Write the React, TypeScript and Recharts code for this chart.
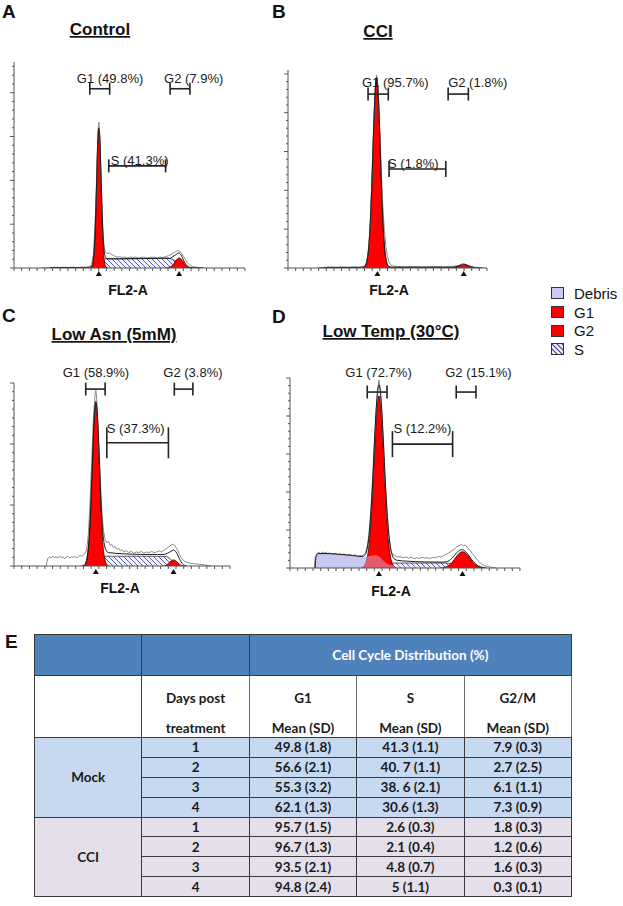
import React from "react";
import {
  Area,
  ComposedChart,
  Line,
  ReferenceDot,
  ReferenceLine,
  XAxis,
  YAxis,
} from "recharts";

type Pt = [number, number];

// ---------- A: Control ----------
const controlG1: Pt[] = [[84,0],[86,2],[88,18],[89,43],[90,88],[91,153],[92,229],[93,291],[94,315],[95,291],[96,229],[97,153],[98,88],[99,43],[100,18],[102,2],[104,0]];
const controlG2: Pt[] = [[168,0],[170,0.5],[173,2],[175,4.7],[177,9.5],[179,15.5],[181,20.8],[183,23],[185,20.8],[187,15.5],[189,9.5],[191,4.7],[193,2],[196,0.5],[198,0]];
const controlS: Pt[] = [[92,0],[94,4],[96,11],[98,17],[100,20],[102,21],[120,21],[140,21.5],[160,22],[170,22],[175,20],[180,15],[183,11],[186,5],[189,1],[192,0]];
const controlFit: Pt[] = [[40,1],[60,1],[80,1],[84,2],[86,4],[88,20],[89,45],[90,90],[91,155],[92,229],[93,295],[94,319],[95,302],[96,240],[97,170],[98,105],[99,62],[100,38],[102,23],[104,21],[120,21],[140,21.5],[160,22],[170,22.5],[173,22],[175,24.5],[177,27],[179,30],[181,33],[183,34],[185,30],[187,22],[189,13],[191,7],[193,3],[196,1],[200,0.5],[210,0]];
const controlRaw: Pt[] = [[30,0],[42,1],[46,2],[50,1],[55,2],[60,1],[65,2],[70,1],[75,2],[80,2],[84,3],[86,8],[88,30],[90,110],[91,170],[92,245],[93,310],[94,333],[95,305],[96,245],[97,175],[98,110],[99,70],[100,48],[101,38],[102,35],[104,33],[106,34],[108,31],[110,29],[112,27],[114,25],[117,26],[120,24],[123,25],[126,23],[129,25],[132,24],[135,25],[138,23],[141,24],[144,25],[147,23],[150,24],[153,25],[156,24],[159,23],[162,25],[165,24],[168,26],[171,28],[174,31],[177,35],[180,38],[182,40],[184,38],[186,33],[188,26],[190,19],[192,12],[194,8],[196,5],[198,3],[202,2],[206,1],[210,0]];

// ---------- B: CCI ----------
const cciG1: Pt[] = [[96,0],[98,2],[100,7],[102,22],[104,56],[106,122],[108,224],[110,346],[112,449],[114,490],[116,449],[118,346],[120,224],[122,122],[124,56],[126,22],[128,7],[130,2],[132,0]];
const cciG2: Pt[] = [[212,0],[216,1.5],[220,4],[223,6.5],[226,8],[229,6.5],[232,4],[236,1.5],[240,0]];
const cciS: Pt[] = [[114,0],[118,1],[124,1.5],[200,1.5],[222,1],[228,0]];
const cciFit: Pt[] = [[40,0],[50,1],[90,1.5],[98,3],[100,8],[102,23],[104,57],[106,123],[108,225],[110,347],[112,450],[114,491],[116,451],[118,348],[120,226],[122,124],[124,58],[126,24],[128,9],[130,4],[134,2],[160,2],[200,2],[212,2],[216,3.5],[220,5.5],[223,8],[226,9.5],[229,8],[232,5.5],[236,3],[240,1],[250,0]];
const cciRaw: Pt[] = [[40,0],[48,2],[55,3],[62,2],[70,3],[78,2],[85,3],[92,2],[98,4],[100,9],[102,25],[104,60],[106,125],[108,230],[110,355],[112,460],[114,497],[116,462],[118,360],[120,250],[122,160],[124,95],[126,55],[128,30],[130,15],[132,8],[135,5],[140,4],[150,3],[160,4],[170,3],[180,3],[190,4],[200,3],[210,4],[216,5],[220,7],[223,10],[226,11],[229,9],[232,7],[236,4],[240,2],[246,1],[252,0]];

// ---------- C: Low Asn ----------
const asnG1: Pt[] = [[81,0],[83,1],[85,4.5],[87,16],[89,43],[91,96],[93,170],[95,238],[97,267],[99,238],[101,170],[103,96],[105,43],[107,16],[109,4.5],[111,1],[113,0]];
const asnG2: Pt[] = [[177,0],[180,1],[182,3],[184,5.5],[186,8],[189,10],[192,8],[194,5.5],[196,3],[198,1],[201,0]];
const asnS: Pt[] = [[95,0],[97,3],[100,8],[103,12.5],[106,15],[109,16],[130,16],[150,16],[170,16],[180,15.5],[184,13],[187,9],[190,5.5],[193,2.5],[197,0.5],[200,0]];
const asnFit: Pt[] = [[80,0],[83,1],[85,5],[87,17],[89,45],[91,99],[93,175],[95,244],[97,270],[99,245],[101,180],[103,108],[105,60],[107,36],[109,26],[112,22],[130,20],[150,19],[170,19],[178,19],[182,21],[184,22.5],[186,24],[189,26],[192,23],[194,18],[196,12],[198,7],[201,2],[205,0]];
const asnRaw: Pt[] = [[38,0],[40,12],[42,15],[44,13],[46,16],[48,14],[50,15],[52,13],[54,16],[56,14],[58,15],[60,12],[62,15],[64,16],[66,13],[68,15],[70,14],[72,16],[74,13],[76,15],[78,17],[80,16],[82,18],[84,20],[86,26],[88,50],[90,100],[92,170],[94,240],[96,280],[97,288],[98,275],[100,215],[102,150],[104,92],[106,58],[108,44],[110,38],[112,40],[114,34],[116,35],[118,30],[120,32],[122,27],[124,29],[126,25],[128,27],[130,23],[133,25],[136,22],[139,24],[142,21],[145,23],[148,22],[151,24],[154,21],[157,23],[160,22],[163,24],[166,22],[169,23],[172,25],[175,23],[178,26],[181,29],[184,32],[187,35],[189,36],[191,33],[193,28],[195,23],[197,17],[199,12],[202,8],[205,6],[208,5],[212,4],[218,3],[224,2],[230,1],[234,0]];

// ---------- D: Low Temp ----------
const tempDebris: Pt[] = [[28,0],[29,30],[31,38],[33,40],[35,37],[37,41],[40,38],[43,40],[46,36],[49,39],[52,36],[55,37],[58,34],[61,36],[64,33],[67,35],[70,32],[73,33],[76,30],[79,31],[82,29],[86,30],[90,32],[94,34],[97,33],[100,29],[103,22],[106,15],[109,10],[112,8],[120,6],[130,5],[140,4],[150,3],[160,2],[170,1],[180,0]];
const tempG1: Pt[] = [[79,0],[81,2],[83,6.6],[85,18],[87,42],[89,87],[91,157],[93,250],[95,348],[97,424],[99,453],[101,424],[103,348],[105,250],[107,157],[109,87],[111,42],[113,18],[115,6.6],[117,2],[119,0]];
const tempG2: Pt[] = [[168,0],[170,1],[174,3.4],[177,7.4],[180,14],[183,23],[186,32.5],[189,40],[192,43],[195,40],[198,32.5],[201,23],[204,14],[207,7.4],[210,3.4],[214,1],[218,0]];
const tempS: Pt[] = [[97,0],[99,3],[102,7],[105,10],[108,12],[112,13],[130,13],[150,13],[170,13],[180,12],[185,10],[189,7],[192,5],[196,2.5],[200,1],[205,0]];
const tempFit: Pt[] = [[28,0],[29,30],[32,38],[40,38],[50,37],[60,35],[70,33],[80,30],[84,36],[86,52],[88,85],[90,145],[92,228],[94,330],[96,420],[98,474],[99,482],[100,476],[102,420],[104,330],[106,232],[108,150],[110,90],[112,52],[114,32],[116,24],[120,20],[130,18],[150,16],[170,15.5],[175,17],[180,25],[183,33],[186,41],[189,47],[192,48],[195,44],[198,36],[201,26],[204,17],[207,10],[210,5],[214,2],[218,0]];
const tempRaw: Pt[] = [[27,0],[28,28],[30,38],[32,41],[34,38],[36,42],[38,39],[40,41],[42,37],[44,40],[46,38],[48,36],[50,39],[52,37],[54,35],[56,38],[58,34],[60,37],[62,35],[64,33],[66,36],[68,34],[70,32],[72,35],[74,33],[76,31],[78,33],[80,32],[82,35],[84,40],[86,58],[88,93],[90,152],[92,236],[94,334],[96,423],[98,476],[99,495],[100,477],[102,420],[104,327],[106,227],[108,143],[110,83],[112,49],[114,36],[116,34],[118,31],[120,29],[123,30],[126,27],[129,29],[132,26],[135,28],[138,25],[141,27],[144,25],[147,28],[150,26],[153,27],[156,25],[159,28],[162,27],[165,30],[168,29],[171,33],[174,36],[177,40],[180,45],[183,50],[186,56],[189,60],[191,62],[193,58],[195,61],[197,55],[200,47],[203,38],[206,29],[209,20],[212,13],[215,8],[218,5],[222,3],[226,1],[230,0]];

// ---------- E: table ----------
const days = ["1", "2", "3", "4"];
const mockG1Col = ["49.8 (1.8)", "56.6 (2.1)", "55.3 (3.2)", "62.1 (1.3)"];
const mockSCol = ["41.3 (1.1)", "40. 7 (1.1)", "38. 6 (2.1)", "30.6 (1.3)"];
const mockG2Col = ["7.9 (0.3)", "2.7 (2.5)", "6.1 (1.1)", "7.3 (0.9)"];
const cciG1Col = ["95.7 (1.5)", "96.7 (1.3)", "93.5 (2.1)", "94.8 (2.4)"];
const cciSCol = ["2.6 (0.3)", "2.1 (0.4)", "4.8 (0.7)", "5 (1.1)"];
const cciG2Col = ["1.8 (0.3)", "1.2 (0.6)", "1.6 (0.3)", "0.3 (0.1)"];

const FONT = '"Liberation Sans", Arial, sans-serif';
const RED = "#ff0000";
const LAVENDER = "#c8c8f0";

const toXY = (pts: Pt[]) => pts.map(([x, y]) => ({ x, y }));
const evenTicks = (n: number) => Array.from({ length: n + 1 }, (_, i) => (i * 256) / n);
const stepTicks = (max: number, step: number) => {
  const out: number[] = [];
  for (let v = 0; v <= max + 1e-6; v += step) out.push(v);
  return out;
};

type Bracket = { from: number; to: number; y: number; cap: number; text: string; dx: number; dy: number };

type PanelCfg = {
  id: string;
  px0: number; px1: number; py0: number; py1: number;
  yMax: number; yStep: number; xDiv: number;
  debris: Pt[]; g1: Pt[]; g2: Pt[]; s: Pt[]; fit: Pt[]; raw: Pt[];
  g1Mean: number; g2Mean: number;
  brackets: Bracket[];
};

const panels: PanelCfg[] = [
  {
    id: "a", px0: 14, px1: 245, py0: 62, py1: 268, yMax: 470, yStep: 20, xDiv: 30,
    debris: [], g1: controlG1, g2: controlG2, s: controlS, fit: controlFit, raw: controlRaw,
    g1Mean: 94, g2Mean: 183,
    brackets: [
      { from: 84, to: 106, y: 409, cap: 6, text: "G1 (49.8%)", dx: -13, dy: 6 },
      { from: 173, to: 195, y: 409, cap: 6, text: "G2 (7.9%)", dx: -6, dy: 6 },
      { from: 105, to: 168, y: 233, cap: 6.5, text: "S (41.3%)", dx: 2, dy: 1 },
    ],
  },
  {
    id: "b", px0: 288, px1: 487, py0: 70, py1: 268, yMax: 510, yStep: 20, xDiv: 26,
    debris: [], g1: cciG1, g2: cciG2, s: cciS, fit: cciFit, raw: cciRaw,
    g1Mean: 115, g2Mean: 226,
    brackets: [
      { from: 103, to: 129, y: 448, cap: 6.5, text: "G1 (95.7%)", dx: -6, dy: 7 },
      { from: 206, to: 232, y: 448, cap: 6.5, text: "G2 (1.8%)", dx: 0, dy: 7 },
      { from: 130, to: 203, y: 255, cap: 8, text: "S (1.8%)", dx: -1, dy: 1 },
    ],
  },
  {
    id: "c", px0: 14, px1: 230, py0: 383, py1: 566, yMax: 300, yStep: 100 / 7, xDiv: 28,
    debris: [], g1: asnG1, g2: asnG2, s: asnS, fit: asnFit, raw: asnRaw,
    g1Mean: 97, g2Mean: 189,
    brackets: [
      { from: 85, to: 108, y: 290, cap: 6.5, text: "G1 (58.9%)", dx: -23, dy: 12 },
      { from: 190, to: 212, y: 290, cap: 6.5, text: "G2 (3.8%)", dx: -11, dy: 12 },
      { from: 110, to: 183, y: 202, cap: 15.5, text: "S (37.3%)", dx: 0, dy: 10 },
    ],
  },
  {
    id: "d", px0: 290, px1: 520, py0: 378, py1: 568, yMax: 500, yStep: 20, xDiv: 30,
    debris: tempDebris, g1: tempG1, g2: tempG2, s: tempS, fit: tempFit, raw: tempRaw,
    g1Mean: 99, g2Mean: 192,
    brackets: [
      { from: 86, to: 108, y: 463, cap: 6.5, text: "G1 (72.7%)", dx: -22, dy: 15 },
      { from: 185, to: 207, y: 463, cap: 6.5, text: "G2 (15.1%)", dx: -11, dy: 15 },
      { from: 114, to: 181, y: 326, cap: 13, text: "S (12.2%)", dx: 1, dy: 11 },
    ],
  },
];

const XTick = (props: any) => {
  const { x, y } = props;
  return <line x1={x} x2={x} y1={y} y2={y + 3} stroke="#555" strokeWidth={1} />;
};

const YTick = (props: any) => {
  const { x, y, payload } = props;
  const v = payload.value / 100;
  const major = Math.abs(v - Math.round(v)) < 1e-6;
  return <line x1={x - (major ? 4 : 2)} x2={x} y1={y} y2={y} stroke="#555" strokeWidth={1} />;
};

const Triangle = (props: any) => {
  const { cx, cy } = props;
  return <path d={`M${cx - 3},${cy + 8} L${cx},${cy + 3} L${cx + 3},${cy + 8} Z`} fill="#111" />;
};

const bracketShape = (b: Bracket) => (p: any) => {
  const { x1, x2, y1 } = p;
  return (
    <g>
      <line x1={x1} x2={x2} y1={y1} y2={y1} stroke="#222" strokeWidth={1.6} />
      <line x1={x1} x2={x1} y1={y1 - b.cap} y2={y1 + b.cap} stroke="#222" strokeWidth={1.6} />
      <line x1={x2} x2={x2} y1={y1 - b.cap} y2={y1 + b.cap} stroke="#222" strokeWidth={1.6} />
      <text x={x1 + b.dx} y={y1 - b.dy} fontSize={13} fontFamily={FONT} fill="#1a1a1a">
        {b.text}
      </text>
    </g>
  );
};

function Histogram({ cfg }: { cfg: PanelCfg }) {
  const padTop = 40;
  const padRight = 48;
  const yw = 14;
  const xh = 14;
  const width = cfg.px1 - cfg.px0 + yw + padRight;
  const height = padTop + (cfg.py1 - cfg.py0) + xh;
  const hatch = `hatch-${cfg.id}`;
  return (
    <div style={{ position: "absolute", left: cfg.px0 - yw, top: cfg.py0 - padTop }}>
      <ComposedChart
        width={width}
        height={height}
        margin={{ top: padTop, right: padRight, bottom: 0, left: 0 }}
        style={{ overflow: "visible" }}
      >
        <defs>
          <pattern id={hatch} patternUnits="userSpaceOnUse" width={5} height={5}>
            <rect width={5} height={5} fill="#f3f3fc" />
            <path d="M-1,-1 L6,6 M-1,4 L1,6 M4,-1 L6,1" stroke="#5656c4" strokeWidth={1} />
          </pattern>
        </defs>
        <XAxis
          type="number"
          dataKey="x"
          domain={[0, 256]}
          ticks={evenTicks(cfg.xDiv)}
          interval={0}
          tickLine={false}
          tickSize={0}
          tickMargin={0}
          tick={XTick}
          height={xh}
          stroke="#555"
          allowDataOverflow
        />
        <YAxis
          type="number"
          domain={[0, cfg.yMax]}
          ticks={stepTicks(cfg.yMax, cfg.yStep)}
          interval={0}
          tickLine={false}
          tickSize={0}
          tickMargin={0}
          tick={YTick}
          width={yw}
          stroke="#555"
          allowDataOverflow
        />
        {cfg.debris.length > 0 && (
          <Area data={toXY(cfg.debris)} dataKey="y" type="linear" fill={LAVENDER} fillOpacity={1} stroke="none" isAnimationActive={false} />
        )}
        <Area data={toXY(cfg.s)} dataKey="y" type="monotone" fill={`url(#${hatch})`} fillOpacity={1} stroke="#333" strokeWidth={0.8} isAnimationActive={false} />
        <Area data={toXY(cfg.g1)} dataKey="y" type="monotone" fill={RED} fillOpacity={1} stroke="#3a0000" strokeWidth={0.8} isAnimationActive={false} />
        <Area data={toXY(cfg.g2)} dataKey="y" type="monotone" fill={RED} fillOpacity={1} stroke="#3a0000" strokeWidth={0.8} isAnimationActive={false} />
        {cfg.debris.length > 0 && (
          <Area data={toXY(cfg.debris)} dataKey="y" type="linear" fill={LAVENDER} fillOpacity={0.45} stroke="none" isAnimationActive={false} />
        )}
        <Line data={toXY(cfg.raw)} dataKey="y" type="linear" stroke="#8a8a8a" strokeWidth={1} dot={false} isAnimationActive={false} />
        <Line data={toXY(cfg.fit)} dataKey="y" type="monotone" stroke="#1a1a1a" strokeWidth={1} dot={false} isAnimationActive={false} />
        <ReferenceDot x={cfg.g1Mean} y={0} ifOverflow="visible" shape={Triangle} />
        <ReferenceDot x={cfg.g2Mean} y={0} ifOverflow="visible" shape={Triangle} />
        {cfg.brackets.map((b) => (
          <ReferenceLine
            key={b.text}
            segment={[{ x: b.from, y: b.y }, { x: b.to, y: b.y }]}
            ifOverflow="visible"
            shape={bracketShape(b)}
          />
        ))}
      </ComposedChart>
    </div>
  );
}

const legendItems = [
  { name: "Debris", kind: "debris" },
  { name: "G1", kind: "red" },
  { name: "G2", kind: "red" },
  { name: "S", kind: "hatch" },
];

function Legend() {
  return (
    <div style={{ position: "absolute", left: 551, top: 284, fontFamily: FONT, fontSize: 15, color: "#111" }}>
      {legendItems.map((it) => (
        <div key={it.name} style={{ display: "flex", alignItems: "center", height: 18.7 }}>
          <svg width={13} height={12} style={{ marginRight: 10 }}>
            <defs>
              <pattern id="legendHatch" patternUnits="userSpaceOnUse" width={5} height={5}>
                <rect width={5} height={5} fill="#f3f3fc" />
                <path d="M-1,-1 L6,6 M-1,4 L1,6 M4,-1 L6,1" stroke="#3a3ab0" strokeWidth={1.2} />
              </pattern>
            </defs>
            <rect
              x={0.5}
              y={0.5}
              width={12}
              height={11}
              fill={it.kind === "debris" ? LAVENDER : it.kind === "red" ? RED : "url(#legendHatch)"}
              stroke="#333"
              strokeWidth={1}
            />
          </svg>
          <span style={{ lineHeight: "15px" }}>{it.name}</span>
        </div>
      ))}
    </div>
  );
}

const B_DARK = "1px solid #3a3a3a";
const B_GREY = "1px solid #6e6e6e";

function CycleTable() {
  const td = (extra: React.CSSProperties = {}): React.CSSProperties => ({
    border: B_DARK,
    textAlign: "center",
    padding: 0,
    ...extra,
  });
  const groupRows = (label: string, bg: string, g1: string[], s: string[], g2: string[]) =>
    days.map((d, i) => (
      <tr key={label + d} style={{ height: 19.9, background: bg }}>
        {i === 0 && (
          <td rowSpan={4} style={td()}>
            {label}
          </td>
        )}
        <td style={td()}>{d}</td>
        <td style={td()}>{g1[i]}</td>
        <td style={td()}>{s[i]}</td>
        <td style={td()}>{g2[i]}</td>
      </tr>
    ));
  const head1 = td({ borderBottom: "none", verticalAlign: "bottom", paddingBottom: 1, borderLeft: B_GREY, borderRight: B_GREY });
  const head2 = td({ borderTop: "none", verticalAlign: "bottom", paddingBottom: 1, borderLeft: B_GREY, borderRight: B_GREY });
  return (
    <table
      style={{
        position: "absolute",
        left: 34,
        top: 634,
        width: 537,
        borderCollapse: "collapse",
        tableLayout: "fixed",
        fontFamily: "Lato, sans-serif",
        fontWeight: 700,
        fontSize: 13.5,
        color: "#1b1b1b",
        lineHeight: "16px",
      }}
    >
      <colgroup>
        {[0, 1, 2, 3, 4].map((i) => (
          <col key={i} style={{ width: 107.4 }} />
        ))}
      </colgroup>
      <tbody>
        <tr style={{ height: 41, background: "#4f81bd" }}>
          <td style={td()} />
          <td style={td()} />
          <td colSpan={3} style={td({ color: "#ffffff" })}>
            Cell Cycle Distribution (%)
          </td>
        </tr>
        <tr style={{ height: 31, background: "#ffffff" }}>
          <td rowSpan={2} style={td()} />
          <td style={head1}>Days post</td>
          <td style={head1}>G1</td>
          <td style={head1}>S</td>
          <td style={head1}>G2/M</td>
        </tr>
        <tr style={{ height: 31, background: "#ffffff" }}>
          <td style={head2}>treatment</td>
          <td style={head2}>Mean (SD)</td>
          <td style={head2}>Mean (SD)</td>
          <td style={head2}>Mean (SD)</td>
        </tr>
        {groupRows("Mock", "#c6d9f1", mockG1Col, mockSCol, mockG2Col)}
        {groupRows("CCI", "#e5dfec", cciG1Col, cciSCol, cciG2Col)}
      </tbody>
    </table>
  );
}

const letters = [
  { t: "A", x: 2, y: 18 },
  { t: "B", x: 272, y: 18 },
  { t: "C", x: 2, y: 322 },
  { t: "D", x: 272, y: 323 },
  { t: "E", x: 5, y: 648 },
];
const titles = [
  { t: "Control", x: 100, y: 35 },
  { t: "CCI", x: 378, y: 37 },
  { t: "Low Asn (5mM)", x: 114, y: 340 },
  { t: "Low Temp (30\u00b0C)", x: 391, y: 337 },
];
const axisTitles = [
  { x: 128, y: 295 },
  { x: 389, y: 295 },
  { x: 120, y: 593 },
  { x: 391, y: 596 },
];

export default function App() {
  return (
    <div style={{ position: "absolute", left: 0, top: 0, width: 623, height: 906, background: "#ffffff", overflow: "hidden" }}>
      <svg width={623} height={906} style={{ position: "absolute", left: 0, top: 0 }}>
        {letters.map((l) => (
          <text key={l.t} x={l.x} y={l.y} fontFamily={FONT} fontWeight={700} fontSize={19} fill="#111">
            {l.t}
          </text>
        ))}
        {titles.map((t) => (
          <text key={t.t} x={t.x} y={t.y} textAnchor="middle" fontFamily={FONT} fontWeight={700} fontSize={17} fill="#111" textDecoration="underline">
            {t.t}
          </text>
        ))}
        {axisTitles.map((a, i) => (
          <text key={i} x={a.x} y={a.y} textAnchor="middle" fontFamily={FONT} fontWeight={700} fontSize={14} fill="#111">
            FL2-A
          </text>
        ))}
      </svg>
      {panels.map((p) => (
        <Histogram key={p.id} cfg={p} />
      ))}
      <Legend />
      <CycleTable />
    </div>
  );
}
